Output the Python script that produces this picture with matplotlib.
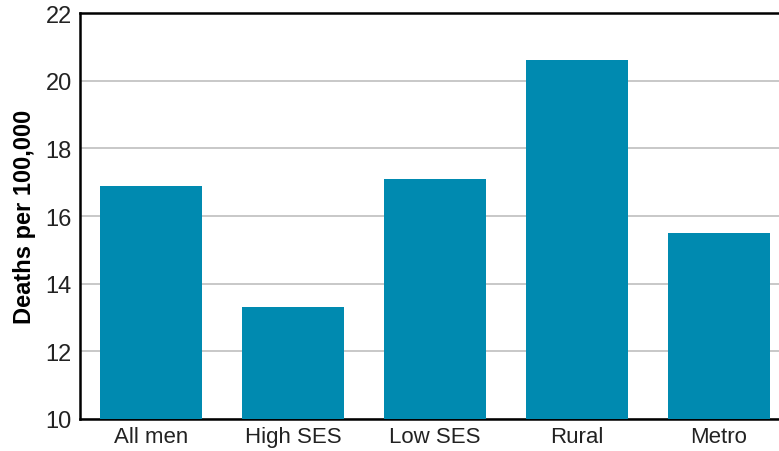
import matplotlib
matplotlib.use("Agg")
import matplotlib.pyplot as plt

categories = ["All men", "High SES", "Low SES", "Rural", "Metro"]
deaths = [16.9, 13.3, 17.1, 20.6, 15.5]
y_ticks = [10, 12, 14, 16, 18, 20, 22]

BAR_COLOR = "#008ab0"

plt.rcParams["font.family"] = ["Liberation Sans", "DejaVu Sans"]

fig = plt.figure(figsize=(7.79, 4.52), dpi=100)
ax = fig.add_axes([0.1027, 0.0708, 0.9114, 0.898])

x = range(len(categories))
ax.bar(x, deaths, width=0.725, color=BAR_COLOR, zorder=3)

ax.set_ylim(10, 22)
ax.set_xlim(-0.5, len(categories) - 0.5)
ax.set_yticks(y_ticks)
ax.set_xticks(list(x))
ax.set_xticklabels(categories)
ax.tick_params(axis="x", length=0, labelsize=16, colors="#222222", pad=5)
ax.tick_params(axis="y", length=0, labelsize=17, colors="#222222", pad=6)

ax.yaxis.grid(True, color="#c4c4c4", linewidth=1.3, zorder=0)
ax.set_axisbelow(True)

for side in ("left", "top", "bottom"):
    ax.spines[side].set_color("black")
    ax.spines[side].set_linewidth(1.8)
ax.spines["right"].set_visible(False)

ax.set_ylabel("Deaths per 100,000", fontsize=17, fontweight="bold", labelpad=7)

fig.savefig("out.png", dpi=100)
